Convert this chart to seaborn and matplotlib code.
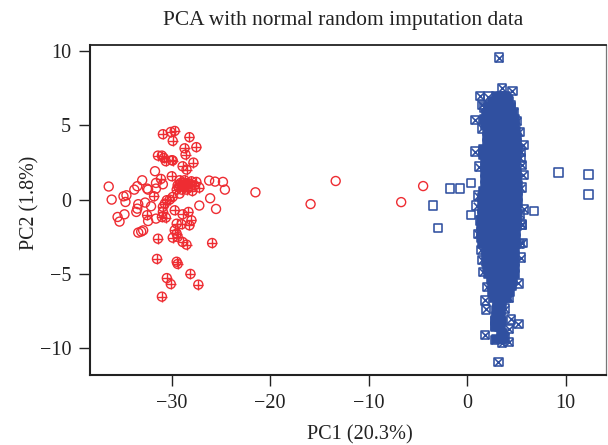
import matplotlib
matplotlib.use("Agg")
import matplotlib.pyplot as plt
import seaborn as sns

sns.set_style("white")
plt.rcParams['font.family'] = ['Liberation Serif', 'DejaVu Serif']

RED = "#EE2C32"
BLUE = "#3050A0"

red_plus_x = [-30.9,-30.1,-29.7,-29.9,-28.2,-27.5,-28.7,-28.6,-31.4,-31.0,-30.8,-30.6,-30.0,-29.9,-27.8,-28.9,-28.5,-30.0,-31.1,-29.2,-28.7,-28.0,-27.5,-29.4,-29.0,-28.5,-28.2,-27.7,-27.2,-29.5,-29.0,-28.5,-27.9,-31.8,-29.9,-30.2,-30.5,-30.7,-30.9,-29.7,-30.9,-28.3,-28.9,-32.5,-31.0,-30.6,-28.0,-29.5,-29.0,-28.2,-29.7,-29.5,-29.4,-29.9,-28.9,-28.5,-31.4,-25.9,-31.5,-29.5,-29.4,-28.1,-30.5,-30.1,-27.3,-31.0,
              -29.1,-28.8,-28.6,-28.4,-29.3,-28.7,-28.3,-29.2]
red_plus_y = [4.4,4.55,4.62,3.95,4.2,3.53,3.45,3.03,2.96,2.96,2.8,2.58,2.65,2.63,2.49,2.24,2.02,1.57,1.39,1.30,1.30,1.23,1.19,0.96,0.96,0.96,1.08,0.96,0.81,0.67,0.67,0.67,0.58,0.22,0.18,0.0,-0.04,-0.27,-0.49,-0.72,-0.83,-0.83,-0.99,-1.05,-1.17,-1.21,-1.39,-1.62,-1.66,-1.73,-2.06,-2.29,-2.51,-2.56,-2.85,-3.03,-2.63,-2.92,-3.99,-4.18,-4.33,-5.0,-5.28,-5.68,-5.72,-6.53,
              1.12,1.15,1.05,1.1,0.82,0.85,0.8,1.0]

red_open_x = [-36.4,-36.1,-34.9,-34.6,-34.7,-33.8,-33.5,-33.0,-31.7,-31.6,-30.9,-32.4,-31.6,-32.5,-32.7,-33.4,-33.5,-33.6,-32.1,-34.8,-35.5,-35.3,-32.4,-31.6,-33.4,-33.1,-32.9,-29.2,-26.2,-25.6,-24.8,-24.6,-26.1,-27.2,-25.5,-21.5,-15.9,-13.35,-6.7,-4.47]
red_open_y = [0.88,0.0,0.22,0.29,-0.16,0.67,0.9,1.3,1.91,1.12,1.03,0.67,0.74,0.74,-0.2,-0.31,-0.61,-0.83,-0.45,-0.99,-1.17,-1.48,-1.44,-1.28,-2.22,-2.15,-2.07,0.4,1.28,1.21,1.19,0.67,0.09,-0.4,-0.63,0.49,-0.3,1.25,-0.17,0.91]

blue_open_x = [-1.73,-0.71,0.37,-3.49,-2.94,0.37,6.8,9.27,12.32,12.35]
blue_open_y = [0.75,0.75,1.13,-0.39,-1.92,-1.04,-0.77,1.83,1.7,0.35]

blue_cross_x = [3.25,3.55,4.6,1.32,2.16,2.67,1.49,4.43,0.81,1.49,5.72,0.81,1.22,5.58,5.72,1.09,5.79,5.55,5.55,5.62,1.42,5.48,1.49,1.59,5.21,2.06,4.26,1.83,1.9,3.86,3.01,4.47,5.21,4.2,2.84,2.84,1.8,2.84,3.86,4.2,3.52,3.18,
                1.75,4.1,4.75,5.05,5.3,5.45,5.4,5.5,0.95,1.35,1.15,5.35,5.3]
blue_cross_y = [9.55,7.5,7.3,6.97,6.92,6.52,6.36,6.32,5.35,4.79,3.67,3.22,2.21,2.32,1.65,0.26,-0.66,-1.67,-1.72,-2.91,-3.4,-3.9,-4.07,-4.86,-5.64,-5.87,-6.61,-6.77,-7.39,-7.33,-7.33,-8.05,-8.38,-8.72,-8.11,-8.5,-9.12,-9.46,-9.24,-9.58,-9.64,-10.92,
                6.2,6.75,5.9,5.3,4.55,3.2,2.8,0.8,-0.4,-1.4,-2.3,-1.0,-3.0]

# dense core of the blue cloud, row by row
core_levels = [7.0,6.6,6.2,5.8,5.4,5.0,4.6,4.2,3.8,3.4,3.0,2.6,2.2,1.8,1.4,1.0,0.6,0.2,-0.2,-0.6,-1.0,-1.4,-1.8,-2.2,-2.6,-3.0,-3.4,-3.8,-4.2,-4.6,-5.0,-5.4,-5.8,-6.2,-6.6,-7.0,-7.4,-7.8,-8.2,-8.6,-9.0,-9.4]
core_rows = [
    [2.9,3.4,3.9],
    [2.5,3.0,3.5,4.0,4.2],
    [2.1,2.6,3.1,3.6,4.1,4.5],
    [1.9,2.4,2.9,3.4,3.9,4.4,4.7],
    [1.7,2.2,2.8,3.3,3.9,4.4,4.85],
    [1.8,2.4,2.9,3.4,3.9,4.4,4.85],
    [2.05,2.6,3.1,3.6,4.1,4.6,5.0],
    [2.05,2.6,3.2,3.7,4.2,4.7,5.05],
    [2.05,2.6,3.1,3.7,4.2,4.7,5.1],
    [1.6,2.1,2.6,3.2,3.7,4.2,4.7,5.15],
    [1.6,2.1,2.7,3.2,3.7,4.3,4.7,5.05],
    [1.85,2.4,2.9,3.4,3.9,4.4,4.95],
    [1.85,2.3,2.8,3.4,3.9,4.4,4.95],
    [1.85,2.4,2.9,3.5,4.0,4.5,5.05],
    [1.85,2.3,2.9,3.4,4.0,4.5,5.1],
    [1.85,2.4,2.9,3.5,4.0,4.5,5.15],
    [1.6,2.1,2.7,3.2,3.8,4.3,4.8,5.15],
    [1.55,2.1,2.6,3.2,3.7,4.3,4.8,5.2],
    [1.55,2.1,2.7,3.2,3.8,4.3,4.8,5.15],
    [1.55,2.1,2.6,3.1,3.7,4.2,4.7,5.05],
    [1.55,2.0,2.6,3.1,3.7,4.2,4.7,5.05],
    [1.45,2.0,2.5,3.1,3.6,4.2,4.7,5.05],
    [1.4,1.9,2.5,3.0,3.6,4.1,4.6,5.05],
    [1.4,1.9,2.5,3.0,3.6,4.1,4.6,5.0],
    [1.4,2.0,2.5,3.1,3.6,4.2,4.7,5.0],
    [1.5,2.0,2.6,3.1,3.7,4.2,4.7,4.95],
    [1.9,2.4,2.9,3.5,4.0,4.5,4.9],
    [1.9,2.4,3.0,3.5,4.1,4.5,4.9],
    [1.9,2.5,3.0,3.6,4.1,4.6,4.9],
    [2.0,2.5,3.0,3.6,4.1,4.6,4.9],
    [2.1,2.6,3.1,3.7,4.2,4.6,4.85],
    [2.4,2.9,3.4,3.9,4.4,4.65],
    [2.5,3.0,3.5,4.0,4.4,4.6],
    [2.5,3.0,3.5,4.0,4.4],
    [2.7,3.1,3.6,4.0],
    [3.0,3.3,3.55],
    [2.9,3.2,3.45],
    [2.9,3.2,3.45],
    [2.8,3.2,3.55],
    [2.8,3.2,3.45],
    [3.4,3.65],
    [2.9,3.4,3.75],
]
core_x = [x for row in core_rows for x in row]
core_y = [lev for lev, row in zip(core_levels, core_rows) for _ in row]

fig = plt.figure(figsize=(6.08, 4.45), dpi=100)
ax = fig.add_axes([90/608, 1-375/445, (606-90)/608, (375-45)/445])

MS = 38
CS = 42
LW = 1.15
RLW = 1.0
sns.scatterplot(x=core_x, y=core_y, marker="s", s=MS, color=BLUE, edgecolor=BLUE, linewidth=LW, ax=ax)
sns.scatterplot(x=blue_cross_x, y=blue_cross_y, marker="s", s=MS, facecolor="none", edgecolor=BLUE, linewidth=LW, ax=ax)
sns.scatterplot(x=blue_cross_x, y=blue_cross_y, marker="x", s=MS*0.8, color=BLUE, linewidth=LW, ax=ax)
sns.scatterplot(x=blue_open_x, y=blue_open_y, marker="s", s=MS, facecolor="none", edgecolor=BLUE, linewidth=LW, ax=ax)
sns.scatterplot(x=red_open_x, y=red_open_y, marker="o", s=CS, facecolor="none", edgecolor=RED, linewidth=RLW, ax=ax)
sns.scatterplot(x=red_plus_x, y=red_plus_y, marker="o", s=CS, facecolor="none", edgecolor=RED, linewidth=RLW, ax=ax)
sns.scatterplot(x=red_plus_x, y=red_plus_y, marker="+", s=CS, color=RED, linewidth=RLW, ax=ax)

ax.set_xlim(-38.3, 14.1)
ax.set_ylim(-11.8, 10.4)
ax.set_xticks([-30, -20, -10, 0, 10])
ax.set_xticklabels(["\u221230", "\u221220", "\u221210", "0", "10"])
ax.set_yticks([-10, -5, 0, 5, 10])
ax.set_yticklabels(["\u221210", "\u22125", "0", "5", "10"])
ax.tick_params(axis="both", direction="out", length=8, width=1.0, color="#222222", labelsize=14.5, labelcolor="#222222", pad=5.5, bottom=True, left=True)

ax.spines["left"].set(linewidth=1.5, color="#222222")
ax.spines["bottom"].set(linewidth=1.5, color="#222222")
ax.spines["top"].set(linewidth=1.3, color="#222222")
ax.spines["right"].set(linewidth=0.9, color="#777777")

ax.set_xlabel("PC1 (20.3%)", fontsize=14.6, color="#222222")
ax.set_ylabel("PC2 (1.8%)", fontsize=14.4, color="#222222")
ax.xaxis.set_label_coords((359.5-90)/516, -(425-375)/330)
ax.yaxis.set_label_coords((39-90)/516, (375-202.5)/330)
fig.text(343.5/608, 1-20/445, "PCA with normal random imputation data", ha="center", va="center", fontsize=15.4, color="#222222")

fig.savefig("out.png", dpi=100)
